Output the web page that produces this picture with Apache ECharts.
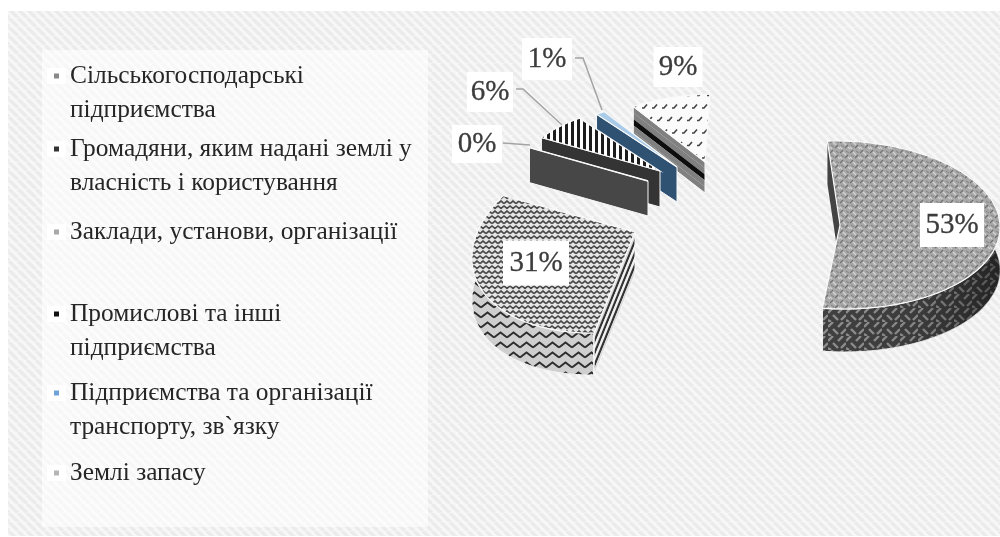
<!DOCTYPE html>
<html>
<head>
<meta charset="utf-8">
<style>html,body{margin:0;padding:0;background:#fff}#chart{width:1000px;height:537px}</style>
<script src="https://cdn.jsdelivr.net/npm/echarts@6/dist/echarts.min.js"></script>
</head>
<body>
<div id="chart"></div>
<script>
// Land fund structure, percent of total area
const categories = [
  'Сільськогосподарські підприємства',
  'Громадяни, яким надані землі у власність і користування',
  'Заклади, установи, організації',
  'Промислові та інші підприємства',
  'Підприємства та організації транспорту, зв`язку',
  'Землі запасу'
];
const legendLines = [
  ['Сільськогосподарські', 'підприємства'],
  ['Громадяни, яким надані землі у', 'власність і користування'],
  ['Заклади, установи, організації'],
  ['Промислові та інші', 'підприємства'],
  ['Підприємства та організації', 'транспорту, зв`язку'],
  ['Землі запасу']
];
const values = [53, 31, 0, 6, 1, 9];

// Pie start, degrees clockwise from twelve o'clock
const startAngle = -3;
const lineHeight = 34;
const legendTops = [59, 132, 215, 297, 376, 456];
const legendColors = ['#8a8a8a', '#333333', '#a8a8a8', '#111111', '#6fa3d8', '#b5b5b5'];
const drawOrder = [0, 1, 5, 4, 3, 2];

// Small repeating fills
function tile(w, h, paint) {
  const c = document.createElement('canvas');
  c.width = w; c.height = h;
  paint(c.getContext('2d'), w, h);
  return { image: c, repeat: 'repeat' };
}
function seg(g, color, width, pts) {
  g.strokeStyle = color; g.lineWidth = width; g.beginPath();
  pts.forEach((p, i) => i ? g.lineTo(p[0], p[1]) : g.moveTo(p[0], p[1]));
  g.stroke();
}
const paper = tile(9, 9, (g, w, h) => {
  g.fillStyle = '#f7f7f7'; g.fillRect(0, 0, w, h);
  for (let k = -9; k <= 9; k += 9) seg(g, '#ebebeb', 3.4, [[k, 0], [k + 9, 9]]);
});
const weaveTop = tile(10, 10, (g, w, h) => {
  g.fillStyle = '#a8a8a8'; g.fillRect(0, 0, w, h);
  seg(g, '#707070', 1.2, [[0, 3], [3, 0]]); seg(g, '#707070', 1.2, [[5, 8], [8, 5]]);
  seg(g, '#d4d4d4', 1.2, [[3, 2], [6, 5]]); seg(g, '#d4d4d4', 1.2, [[8, 7], [10, 9]]); seg(g, '#d4d4d4', 1.2, [[0, 7], [2, 9]]);
  seg(g, '#848484', 1, [[6, 1], [9, 3]]); seg(g, '#848484', 1, [[1, 5], [4, 7]]);
});
const weaveWall = tile(18, 14, (g, w, h) => {
  g.fillStyle = '#404040'; g.fillRect(0, 0, w, h);
  seg(g, '#8f8f8f', 2.4, [[0, 5], [5, 0]]); seg(g, '#8f8f8f', 2.4, [[5, 7], [10, 12]]);
  seg(g, '#8f8f8f', 2.4, [[10, 5], [15, 0]]); seg(g, '#8f8f8f', 2.4, [[13, 12], [18, 7]]);
  seg(g, '#8f8f8f', 2.4, [[0, 12], [3, 14]]);
});
const zigTop = tile(6, 10, (g, w, h) => {
  g.fillStyle = '#e6e6e6'; g.fillRect(0, 0, w, h);
  seg(g, '#4a4a4a', 1.7, [[0, 3.5], [3, 1], [6, 3.5]]);
  seg(g, '#4a4a4a', 1.7, [[-3, 8.5], [0, 6], [3, 8.5], [6, 6], [9, 8.5]]);
});
const zigWall = tile(13, 10, (g, w, h) => {
  g.fillStyle = '#cfcfcf'; g.fillRect(0, 0, w, h);
  seg(g, '#2e2e2e', 1.8, [[0, 7.5], [6.5, 2.5], [13, 7.5]]);
});
const verticalBars = tile(6, 6, (g, w, h) => {
  g.fillStyle = '#fff'; g.fillRect(0, 0, w, h);
  g.fillStyle = '#1c1c1c'; g.fillRect(1, 0, 3, h);
});
const dashes = tile(10, 25, (g, w, h) => {
  g.fillStyle = '#fbfbfb'; g.fillRect(0, 0, w, h);
  seg(g, '#444', 1.6, [[2, 8], [4, 8], [7, 4.5]]);
  seg(g, '#444', 1.6, [[7, 20.5], [9, 20.5], [12, 17]]);
  seg(g, '#444', 1.6, [[-3, 20.5], [-1, 20.5], [2, 17]]);
});

// Per-slice projection: apex, radii, shear and wall height
const farView = { rx: 143, ry: 68, sx: -0.18, sy: 0 };
const sliceViews = [
  { apex: [840, 225], rx: 160, ry: 84, sx: 0.05, sy: 0, h: 43, arc: [75, 188], backEdge: true, face: weaveTop, wall: weaveWall, edge: '#444', shade: true },
  { apex: [635, 232], rx: 162, ry: 100, sx: -0.19, sy: -0.09, h: 42, arc: [188, 285], frontEdge: true, face: zigTop, wall: zigWall,
    bands: ['#dcdcdc', '#333', '#f0f0f0', '#333', '#f0f0f0', '#333', '#dcdcdc'] },
  { apex: [648, 181], ...farView, h: 35, frontEdge: true, bands: ['#474747'] },
  { apex: [660, 171], ...farView, h: 36, frontEdge: true, face: verticalBars, bands: ['#343434'] },
  { apex: [677, 167], ...farView, h: 35, frontEdge: true, face: '#a9cbe8', bands: ['#2f5273'] },
  { apex: [705, 162], rx: 141, ry: 68, sx: -0.18, sy: 0, h: 31, frontEdge: true, face: dashes, bands: ['#808080', '#808080', '#0d0d0d', '#808080', '#808080'] }
];

// Value labels: centre and size of the white plate, optional leader
const labelBoxes = [
  { c: [952, 225], w: 64, h: 44 },
  { c: [536, 263], w: 66, h: 45 },
  { c: [477, 144], w: 50, h: 38, leader: [[503, 143], [530, 145]] },
  { c: [490, 92], w: 46, h: 40, leader: [[516, 89], [523, 89], [562, 125]] },
  { c: [547, 59], w: 50, h: 42, leader: [[575, 58], [583, 58], [602, 110]] },
  { c: [678, 67], w: 49, h: 40 }
];

const total = values.reduce((a, b) => a + b, 0);
const spans = [];
values.reduce((from, v) => {
  const to = from + v / total * 360;
  spans.push([from, to]);
  return to;
}, startAngle);

function project(view, deg, drop) {
  const t = deg * Math.PI / 180;
  const bx = view.rx * Math.sin(t);
  const by = -view.ry * Math.cos(t);
  return [view.apex[0] + bx + view.sx * by, view.apex[1] + by + view.sy * bx + (drop || 0)];
}
function arcPoints(view, a, b, drop) {
  const n = Math.max(2, Math.ceil(Math.abs(b - a) / 2));
  const pts = [];
  for (let i = 0; i <= n; i++) pts.push(project(view, a + (b - a) * i / n, drop));
  return pts;
}
function poly(points, style) {
  return { type: 'polygon', shape: { points }, style };
}

function renderSlice(i) {
  const view = sliceViews[i];
  const [a, b] = spans[i];
  const kids = [];
  const apexLow = [view.apex[0], view.apex[1] + view.h];
  if (view.arc) {
    const from = Math.max(a, view.arc[0]);
    const to = Math.min(b, view.arc[1]);
    const outer = arcPoints(view, from, to, 0).concat(arcPoints(view, to, from, view.h));
    kids.push(poly(outer, { fill: view.wall, stroke: '#f4f4f4', lineWidth: 1 }));
    if (view.shade) {
      kids.push(poly(outer, { fill: { type: 'linear', x: 0, y: 0, x2: 1, y2: 0, colorStops: [
        { offset: 0, color: 'rgba(0,0,0,0)' }, { offset: 0.55, color: 'rgba(0,0,0,0.08)' }, { offset: 1, color: 'rgba(0,0,0,0.45)' }] } }));
    }
  }
  if (view.backEdge) {
    const p = project(view, a);
    kids.push(poly([p, view.apex, apexLow, [p[0], p[1] + view.h]], { fill: view.edge }));
  }
  if (view.bands) {
    // radial wall painted as stacked bands, running along the cut
    const p = project(view, a);
    view.bands.forEach((color, k) => {
      const d0 = view.h * k / view.bands.length;
      const d1 = view.h * (k + 1) / view.bands.length;
      kids.push(poly([[p[0], p[1] + d0], [view.apex[0], view.apex[1] + d0], [view.apex[0], view.apex[1] + d1], [p[0], p[1] + d1]], { fill: color }));
    });
    kids.push(poly([p, view.apex, apexLow, [p[0], p[1] + view.h]], { fill: 'none', stroke: '#f8f8f8', lineWidth: 1 }));
  }
  if (view.face) {
    kids.push(poly([view.apex].concat(arcPoints(view, a, b, 0)), { fill: view.face, stroke: '#fafafa', lineWidth: 1.2 }));
  } else {
    kids.push({ type: 'polyline', shape: { points: [project(view, a), view.apex] }, style: { stroke: '#fafafa', lineWidth: 1.5, fill: 'none' } });
  }
  const box = labelBoxes[i];
  if (box.leader) {
    kids.push({ type: 'polyline', shape: { points: box.leader }, style: { stroke: '#a3a3a3', lineWidth: 1.5, fill: 'none' } });
  }
  kids.push({ type: 'rect', shape: { x: box.c[0] - box.w / 2, y: box.c[1] - box.h / 2, width: box.w, height: box.h }, style: { fill: '#ffffff' } });
  kids.push({ type: 'text', x: box.c[0], y: box.c[1], style: {
    text: values[i] + '%', fontFamily: 'Liberation Serif', fontSize: 29, fill: '#3c3c3c', align: 'center', verticalAlign: 'middle', stroke: '#3c3c3c', lineWidth: 0.3 } });
  return { type: 'group', children: kids };
}

// Marker square sits on the first text line; the zero-area stroke only sets the path's extent
function markerIcon(lines) {
  const tall = lines * lineHeight;
  return 'path://M0 0L17 ' + tall + 'M6 ' + (lineHeight / 2 - 2.5) + 'H11V' + (lineHeight / 2 + 2.5) + 'H6Z';
}

const chart = echarts.init(document.getElementById('chart'), null, { renderer: 'canvas' });
chart.setOption({
  animation: false,
  backgroundColor: '#ffffff',
  graphic: [
    { type: 'rect', silent: true, z: -10, shape: { x: 8, y: 11, width: 992, height: 525 }, style: { fill: paper } },
    { type: 'rect', silent: true, z: -9, shape: { x: 42, y: 50, width: 386, height: 477 }, style: { fill: 'rgba(255,255,255,0.6)' } }
  ].concat(legendTops.map((top, i) => ({
    type: 'rect', silent: true, z: -8, shape: { x: 47, y: top + 9, width: 19, height: 16 }, style: { fill: 'rgba(255,255,255,0.9)' }
  }))),
  legend: categories.map((name, i) => ({
    data: [name],
    left: 48,
    top: legendTops[i],
    padding: 0,
    itemWidth: 17,
    itemHeight: legendLines[i].length * lineHeight,
    icon: markerIcon(legendLines[i].length),
    selectedMode: false,
    formatter: () => legendLines[i].join('\n'),
    textStyle: { fontFamily: 'Liberation Serif', fontSize: 25.4, lineHeight: lineHeight, color: '#262626' }
  })),
  series: categories.map((name, i) => ({
    type: 'custom',
    name,
    coordinateSystem: 'none',
    silent: true,
    z: 2 + drawOrder.indexOf(i),
    itemStyle: { color: legendColors[i] },
    data: [values[i]],
    renderItem: () => renderSlice(i)
  }))
});
</script>
</body>
</html>
